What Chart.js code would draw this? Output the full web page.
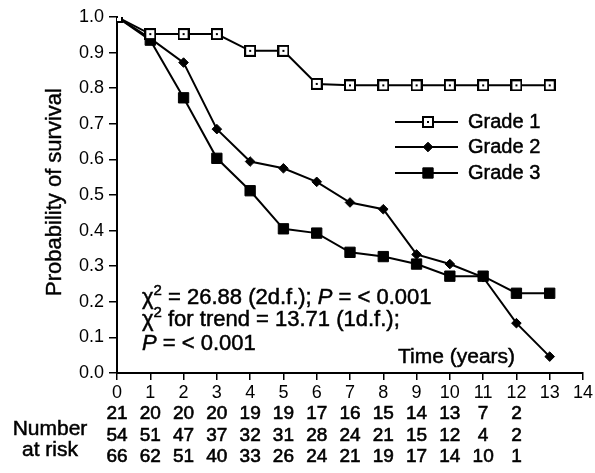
<!DOCTYPE html>
<html><head><meta charset="utf-8">
<script src="https://cdn.jsdelivr.net/npm/chart.js@4/dist/chart.umd.min.js"></script>
<style>html,body{margin:0;padding:0;background:#fff;}#wrap{width:595px;height:473px;}</style>
</head><body><div id="wrap"><canvas id="c" width="595" height="473"></canvas></div>
<script>
const years = [0,1,2,3,4,5,6,7,8,9,10,11,12,13];
const grade1 = [1.0,0.952,0.952,0.952,0.905,0.905,0.812,0.808,0.808,0.808,0.808,0.808,0.808,0.808];
const grade2 = [1.0,0.940,0.872,0.685,0.594,0.575,0.537,0.479,0.460,0.333,0.306,0.269,0.140,0.046];
const grade3 = [1.0,0.935,0.773,0.603,0.512,0.405,0.393,0.339,0.327,0.306,0.272,0.272,0.224,0.224];
const seriesNames = ['Grade 1','Grade 2','Grade 3'];
const riskYears = [0,1,2,3,4,5,6,7,8,9,10,11,12];
const riskG1 = [21,20,20,20,19,19,17,16,15,14,13,7,2];
const riskG2 = [54,51,47,37,32,31,28,24,21,15,12,4,2];
const riskG3 = [66,62,51,40,33,26,24,21,19,17,14,10,1];
const yTitle = 'Probability of survival';
const xTitle = 'Time (years)';
const riskLabel = ['Number','at risk'];

const FONT = '"Liberation Sans", Arial, Helvetica, sans-serif';

function openSquare(){
  const c = document.createElement('canvas'); c.width = 12; c.height = 12;
  const g = c.getContext('2d');
  g.fillStyle = '#fff'; g.fillRect(0,0,12,12);
  g.strokeStyle = '#000'; g.lineWidth = 2; g.strokeRect(1,1,10,10);
  g.fillStyle = '#000'; g.fillRect(5,5,2,2);
  return c;
}
const g1Marker = openSquare();

function pts(arr){ return arr.map((v,i)=>({x:years[i], y:v})); }

const styles = [
  {pointStyle: g1Marker, radius: 6, bg:'#fff'},
  {pointStyle: 'rectRot', radius: 4.8, bg:'#000'},
  {pointStyle: 'rect', radius: 7.3, bg:'#000'}
];

function heavyText(ctx, t, x, y){
  ctx.fillText(t, x, y);
  ctx.strokeText(t, x, y);
}

function drawRich(ctx, x, y, segs){
  let cx = x;
  segs.forEach(s => {
    ctx.font = s.font;
    heavyText(ctx, s.t, cx, y + (s.dy || 0));
    cx += ctx.measureText(s.t).width;
  });
}

const overlay = {
  id: 'overlay',
  afterDraw(chart){
    const ctx = chart.ctx;
    const xs = chart.scales.x;
    ctx.save();
    ctx.fillStyle = '#000';
    ctx.strokeStyle = '#000';
    // y title
    ctx.save();
    ctx.translate(55, 192);
    ctx.rotate(-Math.PI/2);
    ctx.font = '22px ' + FONT;
    ctx.textAlign = 'center'; ctx.textBaseline = 'middle';
    ctx.lineWidth = 0.4;
    heavyText(ctx, yTitle, 0, 0);
    ctx.restore();
    // legend
    const legY = [122,147,173];
    seriesNames.forEach((n,i)=>{
      ctx.lineWidth = 2;
      ctx.strokeStyle = '#000';
      ctx.beginPath(); ctx.moveTo(395, legY[i]); ctx.lineTo(458, legY[i]); ctx.stroke();
      ctx.lineWidth = 1;
      if (typeof styles[i].pointStyle === 'string') {
        ctx.fillStyle = '#000';
        Chart.helpers.drawPoint(ctx, {pointStyle: styles[i].pointStyle, radius: styles[i].radius, rotation: 0, borderWidth: 1}, 428, legY[i]);
      } else {
        ctx.drawImage(styles[i].pointStyle, 428-6, legY[i]-6);
      }
      ctx.fillStyle = '#000';
      ctx.font = '20px ' + FONT;
      ctx.textAlign = 'left'; ctx.textBaseline = 'middle';
      ctx.lineWidth = 0.5;
      heavyText(ctx, n, 468, legY[i]);
    });
    // x title
    ctx.font = '21px ' + FONT;
    ctx.textAlign = 'left'; ctx.textBaseline = 'middle';
    ctx.lineWidth = 0.5;
    heavyText(ctx, xTitle, 398, 357);
    // annotation
    const F = '22px ' + FONT, FI = 'italic 22px ' + FONT, FS = '15px ' + FONT;
    ctx.textBaseline = 'alphabetic';
    drawRich(ctx, 142, 304, [{t:'\u03C7',font:F},{t:'2',font:FS,dy:-9},{t:' = 26.88 (2d.f.); ',font:F},{t:'P',font:FI},{t:' = < 0.001',font:F}]);
    drawRich(ctx, 142, 326, [{t:'\u03C7',font:F},{t:'2',font:FS,dy:-9},{t:' for trend = 13.71 (1d.f.);',font:F}]);
    drawRich(ctx, 142, 350, [{t:'P',font:FI},{t:' = < 0.001',font:F}]);
    // number at risk
    ctx.textAlign = 'center'; ctx.textBaseline = 'middle';
    ctx.font = '21px ' + FONT;
    heavyText(ctx, riskLabel[0], 50, 429);
    heavyText(ctx, riskLabel[1], 50, 450);
    ctx.font = '19px ' + FONT;
    ctx.lineWidth = 0.6;
    const rows = [riskG1, riskG2, riskG3], rowY = [414, 436, 457];
    rows.forEach((r,j)=>{
      r.forEach((v,i)=>{ heavyText(ctx, String(v), xs.getPixelForValue(riskYears[i]), rowY[j]); });
    });
    ctx.restore();
  }
};

new Chart(document.getElementById('c'), {
  type: 'line',
  data: {
    datasets: [grade1, grade2, grade3].map((d,i)=>({
      label: seriesNames[i],
      data: pts(d),
      borderColor: '#000',
      borderWidth: 2,
      backgroundColor: styles[i].bg,
      pointBackgroundColor: styles[i].bg,
      pointBorderColor: '#000',
      pointBorderWidth: 1,
      pointStyle: styles[i].pointStyle,
      pointRadius: styles[i].radius,
      tension: 0,
      fill: false
    }))
  },
  options: {
    responsive: false,
    animation: false,
    events: [],
    layout: {padding: {left: 0, top: 17, right: 9, bottom: 0}},
    plugins: {legend: {display: false}, tooltip: {enabled: false}},
    scales: {
      x: {
        type: 'linear', min: 0, max: 14,
        afterFit(s){ s.height = 100; },
        ticks: {stepSize: 1, color: '#000', font: {family: FONT, size: 18}, padding: 2, maxRotation: 0, autoSkip: false},
        grid: {display: true, drawOnChartArea: false, drawTicks: true, tickLength: 7, color: '#000', lineWidth: 1.5},
        border: {display: true, color: '#000', width: 2}
      },
      y: {
        min: 0, max: 1,
        afterFit(s){ s.width = 117; },
        ticks: {stepSize: 0.1, color: '#000', font: {family: FONT, size: 18}, padding: 5, callback: v => v.toFixed(1)},
        grid: {display: true, drawOnChartArea: false, drawTicks: true, tickLength: 8, color: '#000', lineWidth: 1.5},
        border: {display: true, color: '#000', width: 2}
      }
    }
  },
  plugins: [overlay]
});
</script>
</body></html>
